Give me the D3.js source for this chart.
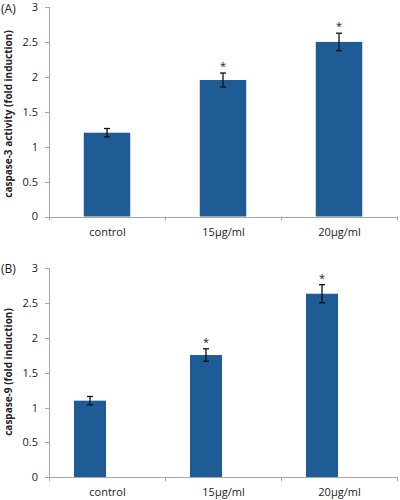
<!DOCTYPE html>
<html><head><meta charset="utf-8">
<script src="https://cdn.jsdelivr.net/npm/d3@7"></script>
<style>body{margin:0;background:#fff}svg{display:block}</style>
</head><body>
<script>
const categories = ["control", "15μg/ml", "20μg/ml"];
const yTicks = [0, 0.5, 1, 1.5, 2, 2.5, 3];
const tickLabels = ["0", "0.5", "1", "1.5", "2", "2.5", "3"];
const caspase3 = [1.2, 1.955, 2.5];
const caspase3Err = [0.06, 0.1, 0.125];
const caspase9 = [1.1, 1.755, 2.635];
const caspase9Err = [0.06, 0.09, 0.13];
const significant = [false, true, true];

const svg = d3.select("body").append("svg").attr("width", 400).attr("height", 500);
const font = "'Open Sans', 'Liberation Sans', sans-serif";
const barColor = "#1f5b94";
const axisColor = "#a6a6a6";

function panel(opts) {
  const g = svg.append("g");
  const x = d3.scaleBand().domain(categories).range([49.5, 397.5]).padding(0);
  const y = d3.scaleLinear().domain([0, 3]).range([opts.y0, opts.y3]);

  // y axis
  g.append("line").attr("x1", 49.5).attr("x2", 49.5).attr("y1", y(0)).attr("y2", y(3))
    .attr("stroke", axisColor).attr("stroke-width", 1);
  yTicks.forEach((t, i) => {
    g.append("line").attr("x1", 45).attr("x2", 49.5).attr("y1", Math.round(y(t)) + 0.5).attr("y2", Math.round(y(t)) + 0.5)
      .attr("stroke", axisColor);
    g.append("text").attr("x", 38).attr("y", y(t)).attr("dy", "0.36em").attr("text-anchor", "end")
      .attr("font-family", font).attr("font-size", 11).attr("fill", "#222").text(tickLabels[i]);
  });

  // bars
  const bw = opts.barWidth;
  categories.forEach((c, i) => {
    const cx = x(c) + x.bandwidth() / 2 + opts.offset;
    g.append("rect").attr("x", cx - bw / 2).attr("width", bw)
      .attr("y", y(opts.values[i])).attr("height", y(0) - y(opts.values[i]))
      .attr("fill", barColor);
    const hi = y(opts.values[i] + opts.err[i]), lo = y(opts.values[i] - opts.err[i]);
    g.append("line").attr("x1", cx).attr("x2", cx).attr("y1", hi).attr("y2", lo).attr("stroke", "#111").attr("stroke-width", 1.3);
    g.append("line").attr("x1", cx - 3).attr("x2", cx + 3).attr("y1", hi).attr("y2", hi).attr("stroke", "#111").attr("stroke-width", 1.3);
    g.append("line").attr("x1", cx - 3).attr("x2", cx + 3).attr("y1", lo).attr("y2", lo).attr("stroke", "#111").attr("stroke-width", 1.3);
    if (significant[i]) {
      g.append("text").attr("x", cx).attr("y", hi - 3).attr("text-anchor", "middle")
        .attr("font-family", font).attr("font-size", 11).attr("fill", "#222").text("*");
    }
    g.append("text").attr("x", x(c) + x.bandwidth() / 2).attr("y", y(0) + 19).attr("text-anchor", "middle")
      .attr("font-family", font).attr("font-size", 11).attr("fill", "#222").text(c);
  });

  // x axis
  g.append("line").attr("x1", 45).attr("x2", 397.5).attr("y1", Math.round(y(0)) + 0.5).attr("y2", Math.round(y(0)) + 0.5)
    .attr("stroke", axisColor);
  categories.forEach(c => {
    const xe = x(c) + x.bandwidth();
    g.append("line").attr("x1", xe).attr("x2", xe).attr("y1", y(0)).attr("y2", y(0) + 4).attr("stroke", axisColor);
  });
  g.append("line").attr("x1", 49.5).attr("x2", 49.5).attr("y1", y(0)).attr("y2", y(0) + 4).attr("stroke", axisColor);

  // panel label
  g.append("text").attr("x", 1).attr("y", opts.labelY).attr("dy", "0.36em")
    .attr("font-family", font).attr("font-size", 12).attr("fill", "#222").text(opts.label);

  // y title
  g.append("text").attr("transform", `translate(12,${opts.titleY}) rotate(-90)`).attr("text-anchor", "middle")
    .attr("font-family", font).attr("font-size", 10).attr("font-weight", "bold").attr("fill", "#222").text(opts.title);
}

panel({ y0: 216.5, y3: 7, values: caspase3, err: caspase3Err, barWidth: 46.5, offset: -0.5,
  label: "(A)", labelY: 9, title: "caspase-3 activity (fold induction)", titleY: 114 });
panel({ y0: 477.3, y3: 268.3, values: caspase9, err: caspase9Err, barWidth: 32, offset: -17.5,
  label: "(B)", labelY: 269, title: "caspase-9 (fold induction)", titleY: 372 });
</script>
</body></html>
